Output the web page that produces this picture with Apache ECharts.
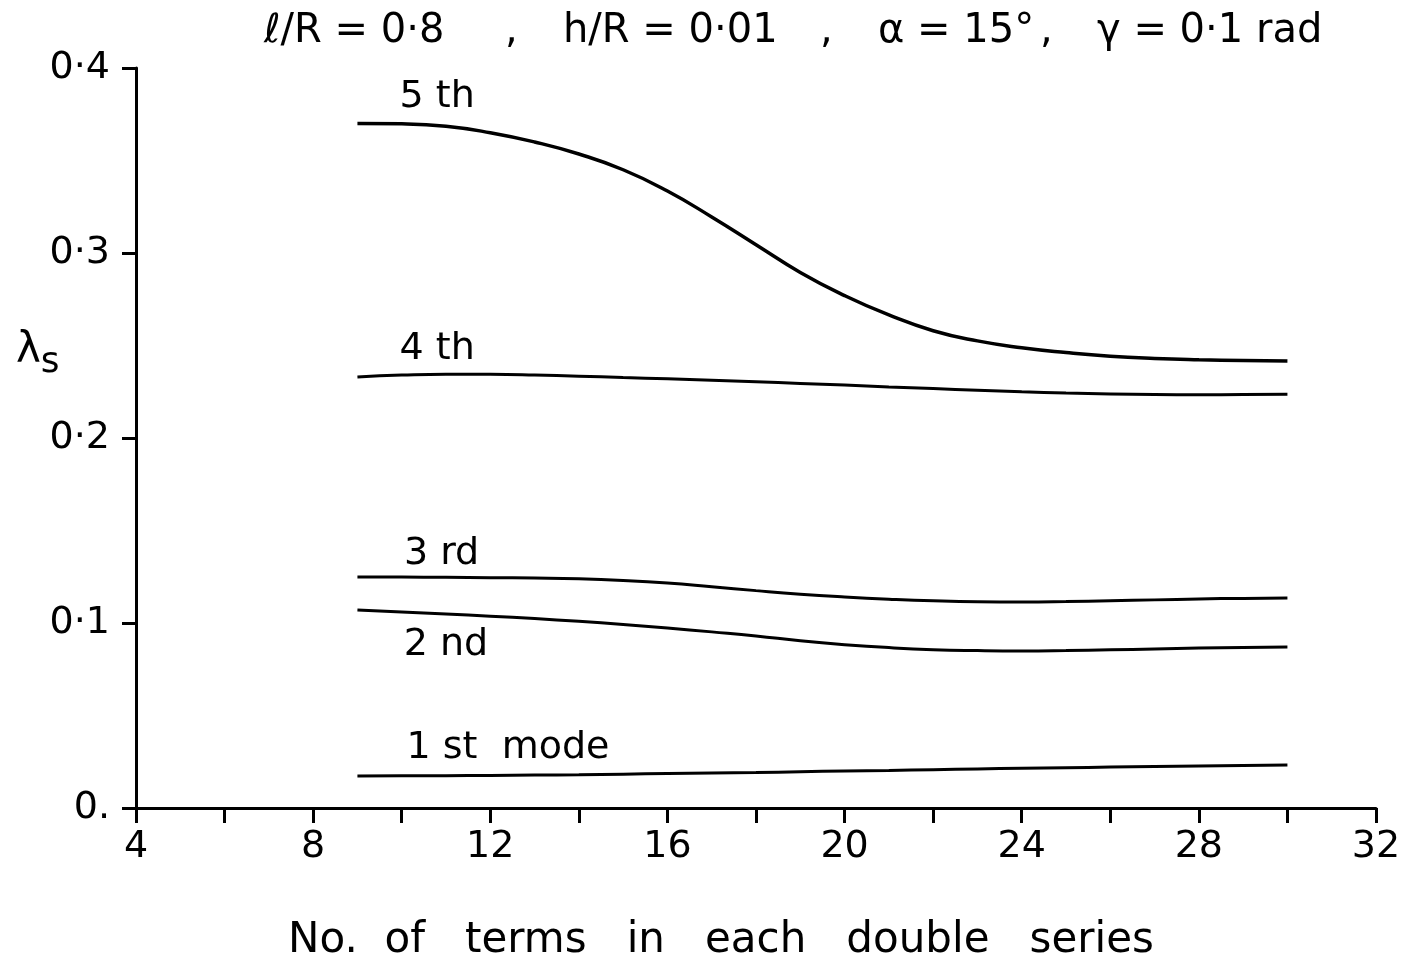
<!DOCTYPE html>
<html>
<head>
<meta charset="utf-8">
<script src="https://cdn.jsdelivr.net/npm/echarts@6/dist/echarts.min.js"></script>
<style>
  html, body { margin: 0; padding: 0; background: #fff; }
  #main { width: 1410px; height: 956px; }
</style>
</head>
<body>
<div id="main"></div>
<script>
// number of terms (x) where each curve was read
const terms = [9, 10, 11, 12, 13, 14, 15, 16, 17, 18, 19, 20, 21, 22, 23, 24, 25, 26, 27, 28, 29, 30]

// lambda_s for each mode
const mode5 = [0.370, 0.3698, 0.3685, 0.3650, 0.3600, 0.3535, 0.3450, 0.3335, 0.3195, 0.3045, 0.2895, 0.2770,
               0.2665, 0.2580, 0.2525, 0.2488, 0.2462, 0.2442, 0.2430, 0.2423, 0.2419, 0.2416]
const mode4 = [0.2330, 0.2340, 0.2345, 0.2344, 0.2340, 0.2334, 0.2327, 0.2320, 0.2312, 0.2304, 0.2295, 0.2286,
               0.2276, 0.2267, 0.2258, 0.2250, 0.2243, 0.2238, 0.2235, 0.2234, 0.2235, 0.2236]
const mode3 = [0.1249, 0.1248, 0.1247, 0.1245, 0.1243, 0.1239, 0.1230, 0.1216, 0.1196, 0.1175, 0.1156, 0.1141,
               0.1129, 0.1120, 0.1115, 0.1114, 0.1116, 0.1120, 0.1125, 0.1130, 0.1133, 0.1135]
const mode2 = [0.1070, 0.1059, 0.1048, 0.1037, 0.1024, 0.1009, 0.0992, 0.0973, 0.0952, 0.0930, 0.0904, 0.0883,
               0.0867, 0.0856, 0.0851, 0.0849, 0.0851, 0.0855, 0.0860, 0.0865, 0.0868, 0.0870]
const mode1 = [0.0173, 0.0174, 0.0175, 0.0176, 0.0178, 0.0180, 0.0183, 0.0186, 0.0189, 0.0192, 0.0196, 0.0200,
               0.0203, 0.0207, 0.0211, 0.0215, 0.0218, 0.0221, 0.0224, 0.0227, 0.0230, 0.0232]

const modeNames = ['5 th', '4 th', '3 rd', '2 nd', '1 st  mode']
const modeData = [mode5, mode4, mode3, mode2, mode1]
// where each curve's name sits, in data units
const namePos = [[10.8, 0.384], [10.8, 0.248], [10.9, 0.137], [11.0, 0.088], [12.4, 0.0325]]

const font = 'DejaVu Sans'

function pairs(ys) {
  return ys.map((y, i) => [terms[i], y])
}

const series = modeData.map((ys, i) => ({
  name: modeNames[i],
  type: 'line',
  data: pairs(ys),
  smooth: 0.5,
  symbol: 'none',
  lineStyle: { color: '#000', width: i === 0 ? 3.5 : 3 },
  markPoint: {
    symbol: 'circle',
    symbolSize: 0,
    label: {
      show: true,
      formatter: modeNames[i],
      color: '#000',
      fontFamily: font,
      fontSize: 38,
      position: 'inside'
    },
    data: [{ coord: namePos[i] }]
  }
}))

// title pieces: [text, left]
const titleParts = [['ℓ/R = 0·8', 264], [',', 505], ['h/R = 0·01', 563], [',', 820],
                    ['α = 15°', 878], [',', 1040], ['γ = 0·1 rad', 1097]]

const myChart = echarts.init(document.getElementById('main'))
myChart.setOption({
  animation: false,
  backgroundColor: '#fff',
  grid: { left: 136, right: 34, top: 68, bottom: 148, outerBoundsMode: 'none' },
  xAxis: {
    type: 'value',
    min: 4,
    max: 32,
    interval: 2,
    name: 'No.  of   terms   in   each   double   series',
    nameLocation: 'middle',
    nameGap: 112,
    nameTextStyle: { color: '#000', fontFamily: font, fontSize: 42, padding: [0, 70, 0, 0] },
    axisLine: { lineStyle: { color: '#000', width: 3 } },
    axisTick: { length: 15, lineStyle: { color: '#000', width: 3 } },
    axisLabel: {
      color: '#000',
      fontFamily: font,
      fontSize: 38,
      margin: 20,
      formatter: v => (v % 4 === 0 ? String(v) : '')
    },
    splitLine: { show: false }
  },
  yAxis: {
    type: 'value',
    min: 0,
    max: 0.4,
    interval: 0.1,
    axisLine: { lineStyle: { color: '#000', width: 3 } },
    axisTick: { length: 14, lineStyle: { color: '#000', width: 3 } },
    axisLabel: {
      color: '#000',
      fontFamily: font,
      fontSize: 38,
      margin: 26,
      formatter: v => (v === 0 ? '0.' : '0·' + Math.round(v * 10))
    },
    splitLine: { show: false }
  },
  graphic: titleParts.map(p => ({
    type: 'text',
    left: p[1],
    top: 12,
    style: { text: p[0], fill: '#000', font: '40px "DejaVu Sans"' }
  })).concat([{
    type: 'text',
    left: 16,
    top: 330,
    style: {
      text: 'λ{s|s}',
      fill: '#000',
      font: '42px "DejaVu Sans"',
      rich: { s: { fontSize: 36, fontFamily: font, padding: [24, 0, 0, 0] } }
    }
  }]),
  series: series
})
</script>
</body>
</html>
